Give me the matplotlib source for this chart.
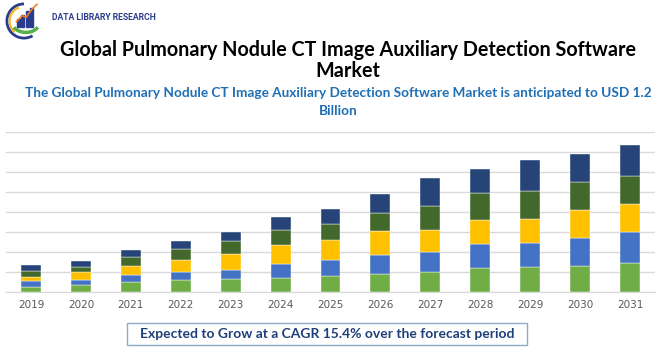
import matplotlib
matplotlib.use("Agg")
import matplotlib.pyplot as plt
from matplotlib.patches import Arc, Rectangle, FancyBboxPatch
import numpy as np

years = ["2019", "2020", "2021", "2022", "2023", "2024", "2025",
         "2026", "2027", "2028", "2029", "2030", "2031"]

# stacked segments, bottom to top
seg_green = [0.25, 0.32, 0.50, 0.57, 0.63, 0.70, 0.80, 0.90, 1.00, 1.20, 1.22, 1.30, 1.42]
seg_blue = [0.30, 0.27, 0.35, 0.40, 0.45, 0.68, 0.78, 0.95, 0.98, 1.17, 1.22, 1.38, 1.57]
seg_yellow = [0.20, 0.38, 0.43, 0.62, 0.82, 0.97, 1.02, 1.20, 1.13, 1.22, 1.22, 1.40, 1.42]
seg_dkgreen = [0.30, 0.28, 0.47, 0.55, 0.65, 0.73, 0.80, 0.88, 1.17, 1.37, 1.38, 1.42, 1.38]
seg_navy = [0.30, 0.30, 0.35, 0.42, 0.43, 0.65, 0.77, 0.95, 1.42, 1.18, 1.55, 1.42, 1.58]

series = [seg_green, seg_blue, seg_yellow, seg_dkgreen, seg_navy]
colors = ["#70AD47", "#4472C4", "#FFC000", "#43682B", "#264478"]

fig = plt.figure(figsize=(6.7, 3.5), dpi=100)
fig.patch.set_facecolor("white")

W, H = 670.0, 350.0
ax = fig.add_axes([6 / W, (H - 291.7) / H, 649 / W, 159.4 / H])

x = np.arange(len(years))
bottom = np.zeros(len(years))
for vals, c in zip(series, colors):
    ax.bar(x, vals, width=0.4, bottom=bottom, color=c, edgecolor="white",
           linewidth=0.3, zorder=3)
    bottom += np.array(vals)

ax.set_xlim(-0.5, len(years) - 0.5)
ax.set_ylim(0, 8)
ax.set_yticks(np.arange(0, 9, 1))
ax.yaxis.grid(True, color="#D9D9D9", linewidth=1, zorder=0)
ax.tick_params(axis="y", left=False, labelleft=False)
ax.tick_params(axis="x", length=0, pad=6, labelsize=7.5, labelcolor="#595959")
ax.set_xticks(x)
ax.set_xticklabels(years)
for s in ["top", "right", "left"]:
    ax.spines[s].set_visible(False)
ax.spines["bottom"].set_color("#D9D9D9")

# titles
fig.text(348 / W, 1 - 50 / H, "Global Pulmonary Nodule CT Image Auxiliary Detection Software",
         ha="center", va="center", fontsize=14.2, fontweight="bold", family="Lato", color="black")
fig.text(348 / W, 1 - 71 / H, "Market",
         ha="center", va="center", fontsize=14.2, fontweight="bold", family="Lato", color="black")
fig.text(0.505, 1 - 93 / H,
         "The Global Pulmonary Nodule CT Image Auxiliary Detection Software Market is anticipated to USD 1.2",
         ha="center", va="center", fontsize=9.8, fontweight="bold", family="Lato", color="#1F6FB5")
fig.text(0.505, 1 - 111 / H, "Billion",
         ha="center", va="center", fontsize=9.8, fontweight="bold", family="Lato", color="#1F6FB5")

# footer box
box = FancyBboxPatch((127 / W, 1 - 345 / H), 400 / W, 22 / H,
                     boxstyle="square,pad=0", transform=fig.transFigure,
                     facecolor="white", edgecolor="#8EA9C9", linewidth=1)
fig.patches.append(box)
fig.text(327 / W, 1 - 334 / H, "Expected to Grow at a CAGR 15.4% over the forecast period",
         ha="center", va="center", fontsize=10, fontweight="bold", family="Lato", color="#1F3F7A")

# logo
lax = fig.add_axes([4 / W, 1 - 40 / H, 40 / W, 38 / H])
lax.set_xlim(0, 10)
lax.set_ylim(0, 10)
lax.set_aspect("equal")
lax.axis("off")
lax.add_patch(Arc((5, 5), 9, 9, theta1=90, theta2=300, color="#2B3C8F", linewidth=2))
lax.add_patch(Arc((5, 5), 7.6, 7.6, theta1=110, theta2=230, color="#F2B51D", linewidth=1.5))
for i, h in enumerate([2.0, 3.0, 4.0, 5.0]):
    lax.add_patch(Rectangle((3.2 + i * 1.1, 3.5), 0.8, h, color="#2B3C8F"))
lax.plot([3.0, 4.5, 5.6, 7.0, 8.4], [4.8, 6.4, 6.0, 8.0, 9.4], color="#F07F22", linewidth=1.2)
lax.add_patch(Arc((5.5, 4.5), 7, 5, theta1=200, theta2=340, color="#55B047", linewidth=2.5))
fig.text(52 / W, 1 - 18 / H, "DATA LIBRARY RESEARCH", ha="left", va="center",
         fontsize=6.2, fontweight="bold", family="Roboto", color="#2B3C8F")

fig.savefig("out.png", dpi=100)
